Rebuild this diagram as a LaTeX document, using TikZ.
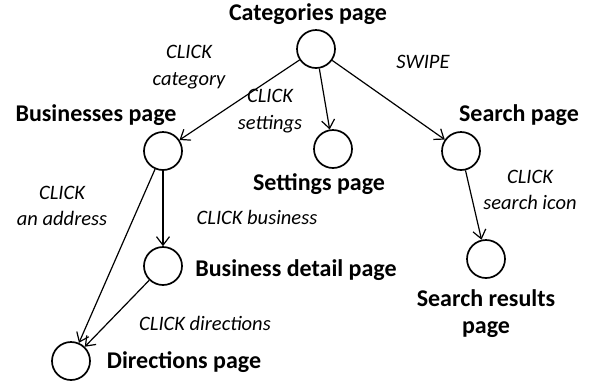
\documentclass[tikz,border=0pt]{standalone}
\usepackage{fontspec}
\setmainfont{Carlito}
\usetikzlibrary{arrows.meta}
\tikzset{
  page/.style={draw, circle, minimum size=38pt, inner sep=0pt, line width=1.7pt},
  pagename/.style={font=\bfseries\fontsize{24}{27}\selectfont, align=center, inner sep=0pt},
  action/.style={font=\itshape\fontsize{20.5}{26.5}\selectfont, align=center, inner sep=0pt},
  flow/.style={line width=1.2pt, -{Straight Barb[length=8.5pt,width=13pt]}}
}
\begin{document}
\begin{tikzpicture}[x=1pt,y=-1pt]
\useasboundingbox (0,0) rectangle (591,384);

%circles
\node[page] (cat) at (316,49) {};
\node[page] (bus) at (163,151) {};
\node[page] (set) at (333,149) {};
\node[page] (sea) at (461,151) {};
\node[page] (det) at (163,266) {};
\node[page] (dir) at (71,361) {};
\node[page] (res) at (486,259) {};

%page names
\node[pagename] (catname) at (308,14) {Categories page};
\node[pagename] (busname) at (96,115) {Businesses page};
\node[pagename] (setname) at (319,184) {Settings page};
\node[pagename] (seaname) at (519,115) {Search page};
\node[pagename] (detname) at (296,270) {Business detail page};
\node[pagename] (dirname) at (184,362) {Directions page};
\node[pagename] (resname) at (486,314) {Search results\\page};

%actions
\node[action] (catact) at (189,67) {CLICK\\category};
\node[action] (setact) at (270,111) {CLICK\\settings};
\node[action] (swipe) at (423,62) {SWIPE};
\node[action] (addr) at (62,206) {CLICK\\an address};
\node[action] (busact) at (257,217) {CLICK business};
\node[action] (diract) at (205,323) {CLICK directions};
\node[action] (seaact) at (530,190) {CLICK\\search icon};

%arrows
\draw[flow] (cat) -- (bus);
\draw[flow] (cat) -- (set);
\draw[flow] (cat) -- (sea);
\draw[flow] (bus) -- (det);
\draw[flow] (bus) -- (dir);
\draw[flow] (det) -- (dir);
\draw[flow] (sea) -- (res);

\end{tikzpicture}
\end{document}
